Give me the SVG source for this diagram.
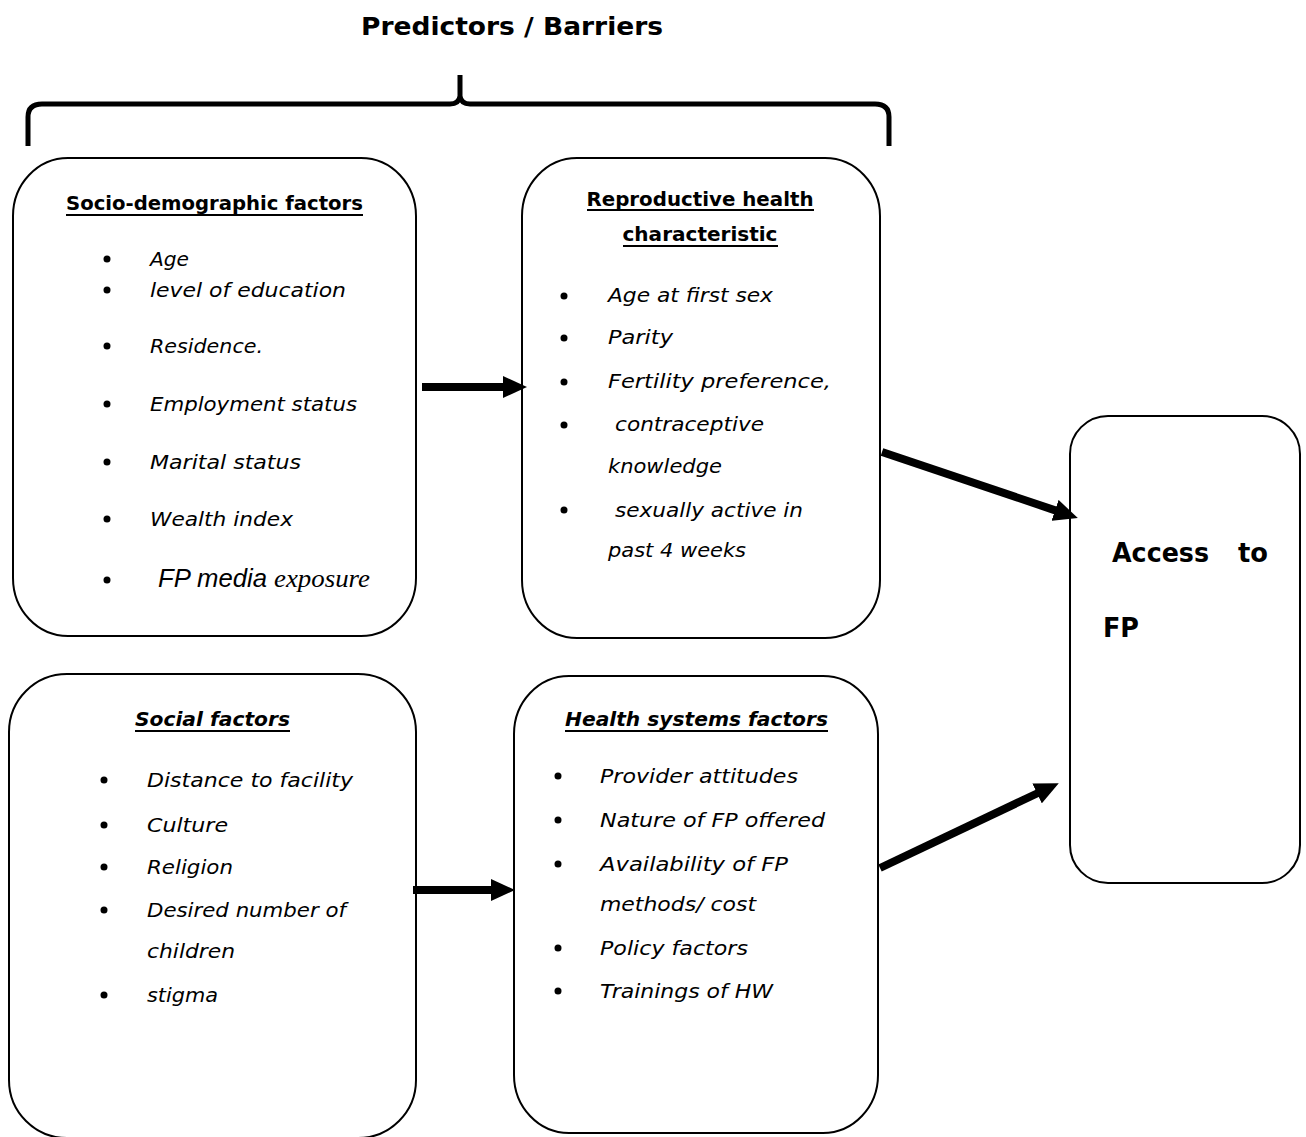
<svg xmlns="http://www.w3.org/2000/svg" width="1306" height="1137" viewBox="0 0 1306 1137">
<style>
.box{fill:#fff;stroke:#000;stroke-width:2}
.t{font-family:"DejaVu Sans",Verdana,sans-serif;fill:#000}
.h{font-weight:bold;font-size:19px}
.hi{font-weight:bold;font-style:italic;font-size:19px}
.i{font-style:italic;font-size:20px}
.ul{stroke:#000;stroke-width:2}
.dot{fill:#000}
.conn{stroke:#000;stroke-width:8;fill:none}
</style>
<defs>
<marker id="ah" markerUnits="userSpaceOnUse" markerWidth="26" markerHeight="22" refX="1" refY="11" orient="auto">
<path d="M0,0 L24,11 L0,22 z" fill="#000"/>
</marker>
</defs>
<rect width="1306" height="1137" fill="#fff"/>

<g id="title">
<text class="t" x="512" y="35" text-anchor="middle" font-weight="bold" font-size="25" textLength="302" lengthAdjust="spacingAndGlyphs">Predictors / Barriers</text>
<path d="M28,146 L28,117 Q28,104 42,104 L450,104 Q459,104 460,96 L460,75 M460,96 Q461,104 470,104 L875,104 Q889,104 889,117 L889,146" fill="none" stroke="#000" stroke-width="5"/>
</g>

<g id="socio">
<rect class="box" x="13" y="158" width="403" height="478" rx="55" ry="58"/>
<text class="t h" x="66" y="210" textLength="297" lengthAdjust="spacingAndGlyphs">Socio-demographic factors</text>
<line class="ul" x1="66" y1="215" x2="363" y2="215"/>
<circle class="dot" cx="107" cy="259" r="3.5"/>
<circle class="dot" cx="107" cy="290" r="3.5"/>
<circle class="dot" cx="107" cy="346" r="3.5"/>
<circle class="dot" cx="107" cy="404" r="3.5"/>
<circle class="dot" cx="107" cy="462" r="3.5"/>
<circle class="dot" cx="107" cy="519" r="3.5"/>
<circle class="dot" cx="107" cy="580" r="3.5"/>
<text class="t i" x="150" y="266" textLength="39" lengthAdjust="spacingAndGlyphs">Age</text>
<text class="t i" x="150" y="297" textLength="196" lengthAdjust="spacingAndGlyphs">level of education</text>
<text class="t i" x="150" y="353" textLength="113" lengthAdjust="spacingAndGlyphs">Residence.</text>
<text class="t i" x="150" y="411" textLength="207" lengthAdjust="spacingAndGlyphs">Employment status</text>
<text class="t i" x="150" y="469" textLength="151" lengthAdjust="spacingAndGlyphs">Marital status</text>
<text class="t i" x="150" y="526" textLength="143" lengthAdjust="spacingAndGlyphs">Wealth index</text>
<text x="158" y="587" font-family="'Liberation Sans',Arial,sans-serif" font-style="italic" font-size="25" textLength="109" lengthAdjust="spacingAndGlyphs">FP media</text>
<text x="274" y="587" font-family="'Liberation Serif','Times New Roman',serif" font-style="italic" font-size="26" textLength="96" lengthAdjust="spacingAndGlyphs">exposure</text>
</g>

<g id="repro">
<rect class="box" x="522" y="158" width="358" height="480" rx="55" ry="58"/>
<text class="t h" x="700" y="206" text-anchor="middle" textLength="227" lengthAdjust="spacingAndGlyphs">Reproductive health</text>
<line class="ul" x1="587" y1="210" x2="814" y2="210"/>
<text class="t h" x="700" y="241" text-anchor="middle" textLength="155" lengthAdjust="spacingAndGlyphs">characteristic</text>
<line class="ul" x1="623" y1="246" x2="778" y2="246"/>
<circle class="dot" cx="564" cy="296" r="3.5"/>
<circle class="dot" cx="564" cy="338" r="3.5"/>
<circle class="dot" cx="564" cy="382" r="3.5"/>
<circle class="dot" cx="564" cy="425" r="3.5"/>
<circle class="dot" cx="564" cy="510" r="3.5"/>
<text class="t i" x="608" y="302" textLength="165" lengthAdjust="spacingAndGlyphs">Age at first sex</text>
<text class="t i" x="608" y="344" textLength="65" lengthAdjust="spacingAndGlyphs">Parity</text>
<text class="t i" x="608" y="388" textLength="223" lengthAdjust="spacingAndGlyphs">Fertility preference,</text>
<text class="t i" x="615" y="431" textLength="149" lengthAdjust="spacingAndGlyphs">contraceptive</text>
<text class="t i" x="608" y="473" textLength="114" lengthAdjust="spacingAndGlyphs">knowledge</text>
<text class="t i" x="615" y="517" textLength="188" lengthAdjust="spacingAndGlyphs">sexually active in</text>
<text class="t i" x="608" y="557" textLength="138" lengthAdjust="spacingAndGlyphs">past 4 weeks</text>
</g>

<g id="social">
<rect class="box" x="9" y="674" width="407" height="464" rx="58" ry="58"/>
<text class="t hi" x="135" y="726" textLength="155" lengthAdjust="spacingAndGlyphs">Social factors</text>
<line class="ul" x1="135" y1="731" x2="290" y2="731"/>
<circle class="dot" cx="104" cy="780" r="3.5"/>
<circle class="dot" cx="104" cy="825" r="3.5"/>
<circle class="dot" cx="104" cy="867" r="3.5"/>
<circle class="dot" cx="104" cy="910" r="3.5"/>
<circle class="dot" cx="104" cy="995" r="3.5"/>
<text class="t i" x="147" y="787" textLength="206" lengthAdjust="spacingAndGlyphs">Distance to facility</text>
<text class="t i" x="147" y="832" textLength="81" lengthAdjust="spacingAndGlyphs">Culture</text>
<text class="t i" x="147" y="874" textLength="86" lengthAdjust="spacingAndGlyphs">Religion</text>
<text class="t i" x="147" y="917" textLength="199" lengthAdjust="spacingAndGlyphs">Desired number of</text>
<text class="t i" x="147" y="958" textLength="88" lengthAdjust="spacingAndGlyphs">children</text>
<text class="t i" x="147" y="1002" textLength="71" lengthAdjust="spacingAndGlyphs">stigma</text>
</g>

<g id="health">
<rect class="box" x="514" y="676" width="364" height="457" rx="55" ry="58"/>
<text class="t hi" x="565" y="726" textLength="263" lengthAdjust="spacingAndGlyphs">Health systems factors</text>
<line class="ul" x1="565" y1="731" x2="828" y2="731"/>
<circle class="dot" cx="558" cy="776" r="3.5"/>
<circle class="dot" cx="558" cy="820" r="3.5"/>
<circle class="dot" cx="558" cy="864" r="3.5"/>
<circle class="dot" cx="558" cy="948" r="3.5"/>
<circle class="dot" cx="558" cy="991" r="3.5"/>
<text class="t i" x="600" y="783" textLength="198" lengthAdjust="spacingAndGlyphs">Provider attitudes</text>
<text class="t i" x="600" y="827" textLength="225" lengthAdjust="spacingAndGlyphs">Nature of FP offered</text>
<text class="t i" x="600" y="871" textLength="188" lengthAdjust="spacingAndGlyphs">Availability of FP</text>
<text class="t i" x="600" y="911" textLength="156" lengthAdjust="spacingAndGlyphs">methods/ cost</text>
<text class="t i" x="600" y="955" textLength="148" lengthAdjust="spacingAndGlyphs">Policy factors</text>
<text class="t i" x="600" y="998" textLength="173" lengthAdjust="spacingAndGlyphs">Trainings of HW</text>
</g>

<g id="access">
<rect class="box" x="1070" y="416" width="230" height="467" rx="38" ry="38"/>
<text class="t" x="1112" y="562" font-weight="bold" font-size="27" textLength="97" lengthAdjust="spacingAndGlyphs">Access</text>
<text class="t" x="1238" y="562" font-weight="bold" font-size="27" textLength="30" lengthAdjust="spacingAndGlyphs">to</text>
<text class="t" x="1103" y="637" font-weight="bold" font-size="27" textLength="36" lengthAdjust="spacingAndGlyphs">FP</text>
</g>

<g id="connectors">
<line class="conn" x1="422" y1="387" x2="504" y2="387" marker-end="url(#ah)"/>
<line class="conn" x1="413" y1="890" x2="492" y2="890" marker-end="url(#ah)"/>
<line class="conn" x1="882" y1="452" x2="1056" y2="510.6" marker-end="url(#ah)"/>
<line class="conn" x1="880" y1="868" x2="1038" y2="793" marker-end="url(#ah)"/>
</g>
</svg>
